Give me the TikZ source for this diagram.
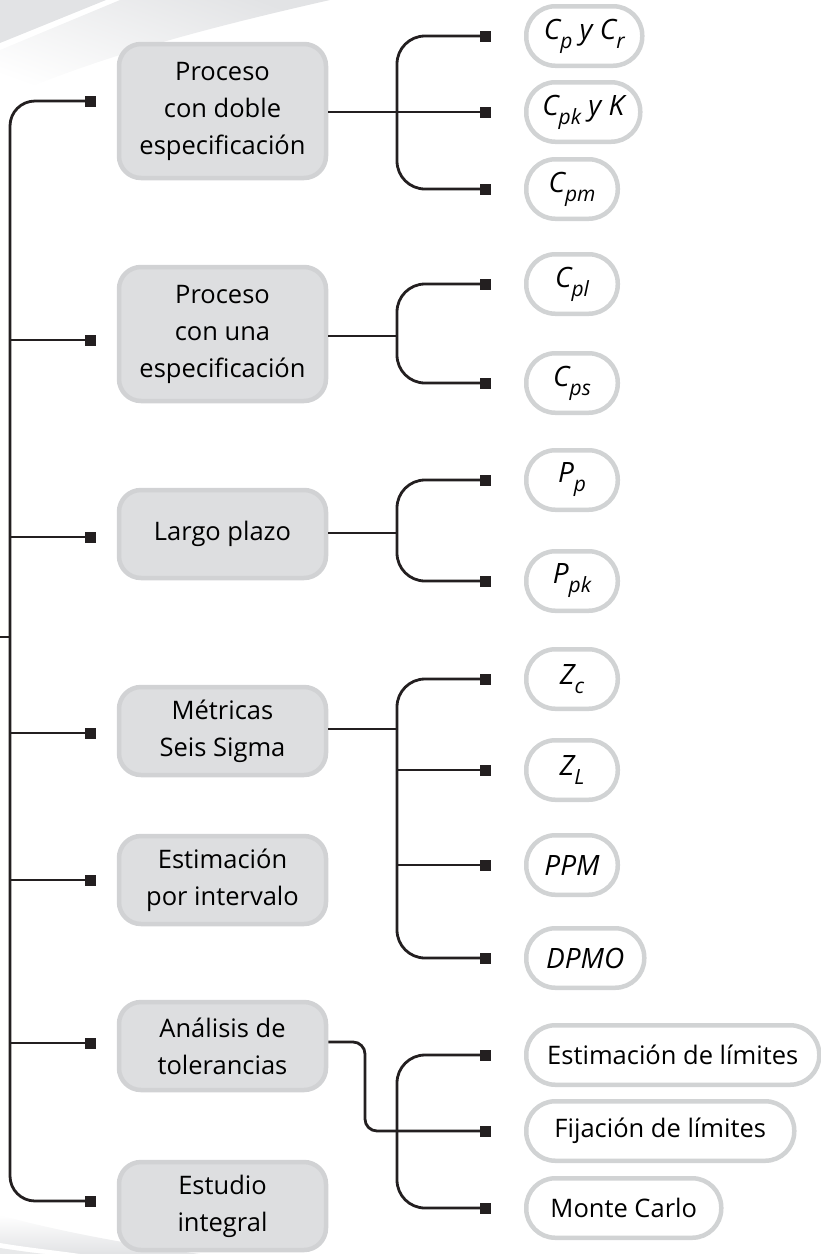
\documentclass[tikz,border=0pt]{standalone}
\usepackage{fontspec}
\setmainfont{Open Sans}
\definecolor{ink}{RGB}{35,31,32}
\definecolor{boxfill}{RGB}{221,222,224}
\definecolor{boxedge}{RGB}{209,210,212}
\definecolor{pilledge}{RGB}{209,211,212}
\definecolor{swoosh}{RGB}{226,227,229}
\newcommand{\sbs}[1]{\raisebox{-9pt}{\fontsize{21}{21}\selectfont #1}}
\tikzset{
  conn/.style={draw=ink, line width=2.8pt},
  sq/.style={fill=ink, minimum size=11pt, inner sep=0pt, outer sep=0pt},
  lbox/.style={draw=boxedge, fill=boxfill, line width=4.5pt, rounded corners=22pt,
    minimum width=207pt, minimum height=88pt, align=center, inner sep=0pt,
    font=\fontsize{25.5}{37}\selectfont},
  pill/.style={draw=pilledge, fill=white, line width=4.5pt, rounded corners=29pt,
    minimum height=59.5pt, inner sep=0pt, anchor=west,
    font=\fontsize{28}{30}\selectfont\itshape},
  ptext/.style={pill, font=\fontsize{25.5}{30}\selectfont},
}
\begin{document}
\begin{tikzpicture}[x=1pt, y=-1pt]
\useasboundingbox (0,0) rectangle (821,1254);
% background swooshes
\shade[top color=swoosh, bottom color=white, shading angle=-20] (0,50) -- (120,0) -- (330,0) .. controls (220,25) and (100,55) .. (0,100) -- cycle;
\fill[swoosh] (0,0) -- (106,0) -- (0,43) -- cycle;
\shade[top color=white, bottom color=swoosh] (0,1215) .. controls (60,1232) and (140,1246) .. (200,1254) -- (0,1254) -- cycle;
\fill[white] (0,1243) .. controls (30,1248) and (60,1251) .. (80,1254) -- (0,1254) -- cycle;
\fill[swoosh!80] (0,1248) .. controls (20,1251) and (35,1253) .. (45,1254) -- (0,1254) -- cycle;

% left boxes
\node[lbox, minimum height=134pt] (L1) at (222.5,111) {Proceso\\con doble\\especificación};
\node[lbox, minimum height=134pt] (L2) at (222.5,334) {Proceso\\con una\\especificación};
\node[lbox] (L3) at (222.5,534) {Largo plazo};
\node[lbox] (L4) at (222.5,731) {Métricas\\Seis Sigma};
\node[lbox] (L5) at (222.5,880) {Estimación\\por intervalo};
\node[lbox] (L6) at (222.5,1046) {Análisis de\\tolerancias};
\node[lbox] (L7) at (222.5,1206) {Estudio\\integral};

% right pills
\node[pill, minimum width=116pt] (P1) at (524,36) {C\sbs{p} y C\sbs{r}};
\node[pill, minimum width=114pt] (P2) at (524,112) {C\sbs{pk} y K};
\node[pill, minimum width=91.5pt] (P3) at (524,189) {C\sbs{pm}};
\node[pill, minimum width=91.5pt] (P4) at (524,284) {C\sbs{pl}};
\node[pill, minimum width=91.5pt] (P5) at (524,383) {C\sbs{ps}};
\node[pill, minimum width=91.5pt] (P6) at (524,480) {P\sbs{p}};
\node[pill, minimum width=91.5pt] (P7) at (524,581) {P\sbs{pk}};
\node[pill, minimum width=91.5pt] (P8) at (524,679) {Z\sbs{c}};
\node[pill, minimum width=91.5pt] (P9) at (524,770) {Z\sbs{L}};
\node[pill, minimum width=91.5pt] (P10) at (524,865) {PPM};
\node[pill, minimum width=118pt] (P11) at (524,958) {DPMO};
\node[ptext, minimum width=293pt] (P12) at (524,1055) {Estimación de límites};
\node[ptext, minimum width=268pt] (P13) at (524,1131) {Fijación de límites};
\node[ptext, minimum width=195pt] (P14) at (524,1208) {Monte Carlo};

% squares on the right
\foreach \i/\yy in {1/36,2/112,3/189,4/284,5/383,6/480,7/581,8/679,9/770,10/865,11/958,12/1055,13/1131,14/1208}
  \node[sq] (r\i) at (485.5,\yy) {};
% squares on the left
\foreach \i/\yy in {1/101,2/340,3/537,4/733,5/880,6/1043,7/1201}
  \node[sq] (l\i) at (90.5,\yy) {};

\coordinate (tx) at (10,0);
\coordinate (bx) at (397,0);
% main trunk
\draw[conn, rounded corners=25] (l1.center) -- (l1 -| tx) -- (l7 -| tx) -- (l7.center);
\foreach \i in {2,...,6} \draw[conn] (l\i -| tx) -- (l\i.center);
\coordinate (stubL) at (0,637);
\coordinate (stubR) at (10,637);
\draw[conn] (stubL) -- (stubR);

% group 1
\draw[conn, rounded corners=28] (r1.center) -- (r1 -| bx) -- (r3 -| bx) -- (r3.center);
\draw[conn] (L1.east |- r2) -- (r2.center);
% group 2
\coordinate (j2) at (397,336);
\draw[conn, rounded corners=28] (r4.center) -- (r4 -| bx) -- (r5 -| bx) -- (r5.center);
\draw[conn] (L2.east |- j2) -- (j2);
% group 3
\coordinate (j3) at (397,533);
\draw[conn, rounded corners=28] (r6.center) -- (r6 -| bx) -- (r7 -| bx) -- (r7.center);
\draw[conn] (L3.east |- j3) -- (j3);
% group 4
\coordinate (j4) at (397,729);
\draw[conn, rounded corners=28] (r8.center) -- (r8 -| bx) -- (r11 -| bx) -- (r11.center);
\draw[conn] (r9 -| bx) -- (r9.center);
\draw[conn] (r10 -| bx) -- (r10.center);
\draw[conn] (L4.east |- j4) -- (j4);
% group 6
\coordinate (j6) at (365,1042);
\draw[conn, rounded corners=28] (r12.center) -- (r12 -| bx) -- (r14 -| bx) -- (r14.center);
\draw[conn, rounded corners=12] (L6.east |- j6) -- (j6) -- (j6 |- r13) -- (r13.center);
\end{tikzpicture}
\end{document}
